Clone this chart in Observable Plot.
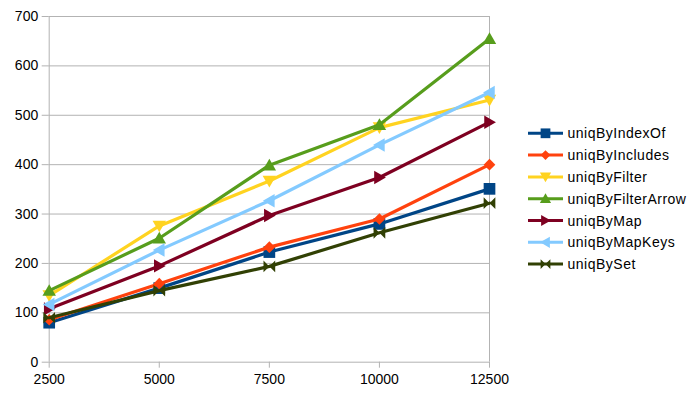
<!DOCTYPE html>
<html><head><meta charset="utf-8">
<script src="https://cdn.jsdelivr.net/npm/d3@7"></script>
<script src="https://cdn.jsdelivr.net/npm/@observablehq/plot@0.6"></script>
<style>
body{margin:0;background:#fff;}
#wrap{position:relative;width:700px;height:398px;}
</style>
</head><body><div id="wrap"></div>
<script>
// ---- data ----
const sizes = [2500, 5000, 7500, 10000, 12500];
const seriesNames = ["uniqByIndexOf","uniqByIncludes","uniqByFilter","uniqByFilterArrow","uniqByMap","uniqByMapKeys","uniqBySet"];
const uniqByIndexOf     = [80, 150, 223, 280, 351];
const uniqByIncludes    = [86, 159, 233, 290, 400];
const uniqByFilter      = [135, 276, 367, 475, 531];
const uniqByFilterArrow = [145, 251, 399, 481, 655];
const uniqByMap         = [108, 195, 297, 374, 486];
const uniqByMapKeys     = [117, 227, 327, 440, 546];
const uniqBySet         = [90, 145, 194, 262, 322];
const yTicks = [0, 100, 200, 300, 400, 500, 600, 700];
const colors = ["#004586","#ff420e","#ffd320","#579d1c","#7e0021","#83caff","#314004"];

const values = [uniqByIndexOf, uniqByIncludes, uniqByFilter, uniqByFilterArrow, uniqByMap, uniqByMapKeys, uniqBySet];

// ---- custom symbols ----
function poly(ctx, pts){ ctx.moveTo(pts[0][0], pts[0][1]); for (let i=1;i<pts.length;i++) ctx.lineTo(pts[i][0], pts[i][1]); ctx.closePath(); }
const symSquare = {draw(c, s){ const k = Math.sqrt(s)/2; poly(c, [[-k,-k],[k,-k],[k,k],[-k,k]]); }};
const symDiamond = {draw(c, s){ const k = Math.sqrt(s)/2; poly(c, [[0,-k],[k,0],[0,k],[-k,0]]); }};
const symUp = {draw(c, s){ const k = Math.sqrt(s)/2; poly(c, [[0,-k*1.1],[k*1.15,k*0.9],[-k*1.15,k*0.9]]); }};
const symDown = {draw(c, s){ const k = Math.sqrt(s)/2; poly(c, [[0,k*1.1],[k*1.15,-k*0.9],[-k*1.15,-k*0.9]]); }};
const symRight = {draw(c, s){ const k = Math.sqrt(s)/2; poly(c, [[k*1.1,0],[-k*0.9,k*1.15],[-k*0.9,-k*1.15]]); }};
const symLeft = {draw(c, s){ const k = Math.sqrt(s)/2; poly(c, [[-k*1.1,0],[k*0.9,k*1.15],[k*0.9,-k*1.15]]); }};
const symBowtie = {draw(c, s){ const k = Math.sqrt(s)/2; poly(c, [[-k,-k],[0,0],[-k,k]]); poly(c, [[k,-k],[0,0],[k,k]]); }};
const symbols = [symSquare, symDiamond, symDown, symUp, symRight, symLeft, symBowtie];

const rows = seriesNames.map((name, i) => sizes.map((x, j) => ({name, x, y: values[i][j]})));

const grid = "#b3b3b3";
const marks = [
  Plot.gridY(yTicks, {stroke: grid, strokeOpacity: 1}),
  Plot.ruleX([2500], {stroke: grid}),
  Plot.ruleX([12500], {stroke: grid}),
  Plot.axisY(yTicks, {tickSize: 7, tickPadding: 4, stroke: grid, fill: "#000", fontSize: 14}),
  Plot.axisX(sizes, {tickSize: 6, tickPadding: 6, stroke: grid, fill: "#000", fontSize: 14, tickFormat: d => String(d)})
];
rows.forEach((data, i) => {
  marks.push(Plot.line(data, {x: "x", y: "y", stroke: colors[i], strokeWidth: 3.2, strokeLinejoin: "round"}));
  marks.push(Plot.dot(data, {x: "x", y: "y", fill: colors[i], stroke: "none", symbol: symbols[i], r: 6.6}));
});

const chart = Plot.plot({
  width: 700, height: 398,
  marginLeft: 48.7, marginRight: 211, marginTop: 16, marginBottom: 36.3,
  style: {fontFamily: "'Liberation Sans', Arial, sans-serif", fontSize: "14px", color: "#000", background: "#fff"},
  x: {type: "linear", domain: [2500, 12500], label: null},
  y: {domain: [0, 700], label: null},
  marks
});
document.getElementById("wrap").appendChild(chart);

// ---- legend ----
const svg = d3.select(chart);
const lg = svg.append("g").attr("font-family", "'Liberation Sans', Arial, sans-serif").attr("font-size", 14).attr("text-anchor", "start");
seriesNames.forEach((name, i) => {
  const cy = 133.3 + i * 21.8;
  const g = lg.append("g").attr("transform", `translate(0,${cy})`);
  g.append("line").attr("x1", 528).attr("x2", 563).attr("y1", 0).attr("y2", 0).attr("stroke", colors[i]).attr("stroke-width", 3);
  g.append("path").attr("transform", "translate(545.5,0)").attr("fill", colors[i])
    .attr("d", d3.symbol(symbols[i], 95)());
  g.append("text").attr("x", 567.5).attr("y", 5).attr("fill", "#000").attr("text-anchor", "start").attr("letter-spacing", "0.5px").text(name);
});
</script>
</body></html>
